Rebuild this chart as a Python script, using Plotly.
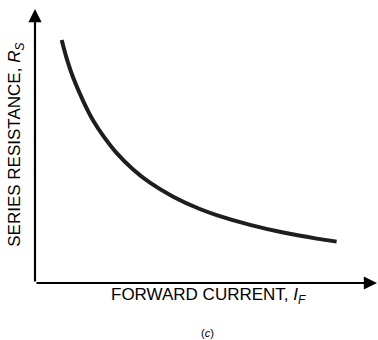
import plotly.graph_objects as go

# Curve (arbitrary units, axes 0..10)
forward_current = [0.78, 0.93, 1.12, 1.41, 1.70, 2.00, 2.39, 2.87, 3.36, 4.04, 4.82, 5.31, 6.29, 7.26, 8.24, 8.82]
series_resistance = [8.87, 8.18, 7.48, 6.64, 5.93, 5.36, 4.74, 4.14, 3.66, 3.15, 2.70, 2.48, 2.12, 1.84, 1.62, 1.51]

x_label = "FORWARD CURRENT, <i>I<sub>F</sub></i>"
y_label = "SERIES RESISTANCE, <i>R<sub>S</sub></i>"
caption = "(<i>c</i>)"

FONT = "Arial, Liberation Sans, Helvetica, sans-serif"

fig = go.Figure()
fig.add_trace(go.Scatter(
    x=forward_current, y=series_resistance, mode="lines",
    line=dict(color="#1e1e1e", width=4, shape="spline", smoothing=0.8),
    hoverinfo="skip", showlegend=False, cliponaxis=False,
))

# Axes with arrowheads
fig.add_annotation(x=0, y=10, ax=0, ay=0, xref="x", yref="y", axref="x", ayref="y",
                   showarrow=True, arrowhead=2, arrowsize=1.2, arrowwidth=2.2,
                   arrowcolor="black", standoff=0, startstandoff=0, text="")
fig.add_annotation(x=10, y=0, ax=0, ay=0, xref="x", yref="y", axref="x", ayref="y",
                   showarrow=True, arrowhead=2, arrowsize=1.2, arrowwidth=2.2,
                   arrowcolor="black", standoff=0, startstandoff=0, text="")

fig.add_annotation(x=0.506, y=-0.047, xref="paper", yref="paper", text=x_label,
                   showarrow=False, xanchor="center", yanchor="middle",
                   font=dict(family=FONT, size=17, color="black"))
fig.add_annotation(x=-0.056, y=0.504, xref="paper", yref="paper", text=y_label,
                   showarrow=False, xanchor="center", yanchor="middle", textangle=-90,
                   font=dict(family=FONT, size=17, color="black"))
fig.add_annotation(x=0.503, y=-0.182, xref="paper", yref="paper", text=caption,
                   showarrow=False, xanchor="center", yanchor="middle",
                   font=dict(family=FONT, size=11, color="black"))

fig.update_xaxes(range=[0, 10], visible=False, fixedrange=True)
fig.update_yaxes(range=[0, 10], visible=False, fixedrange=True)
fig.update_layout(
    width=378, height=340,
    margin=dict(l=35, r=1, t=9, b=57),
    paper_bgcolor="white", plot_bgcolor="white",
)

fig.write_html("out.html", config={"displayModeBar": False},
               post_script="document.body.style.margin='0';document.body.style.overflow='hidden';")
